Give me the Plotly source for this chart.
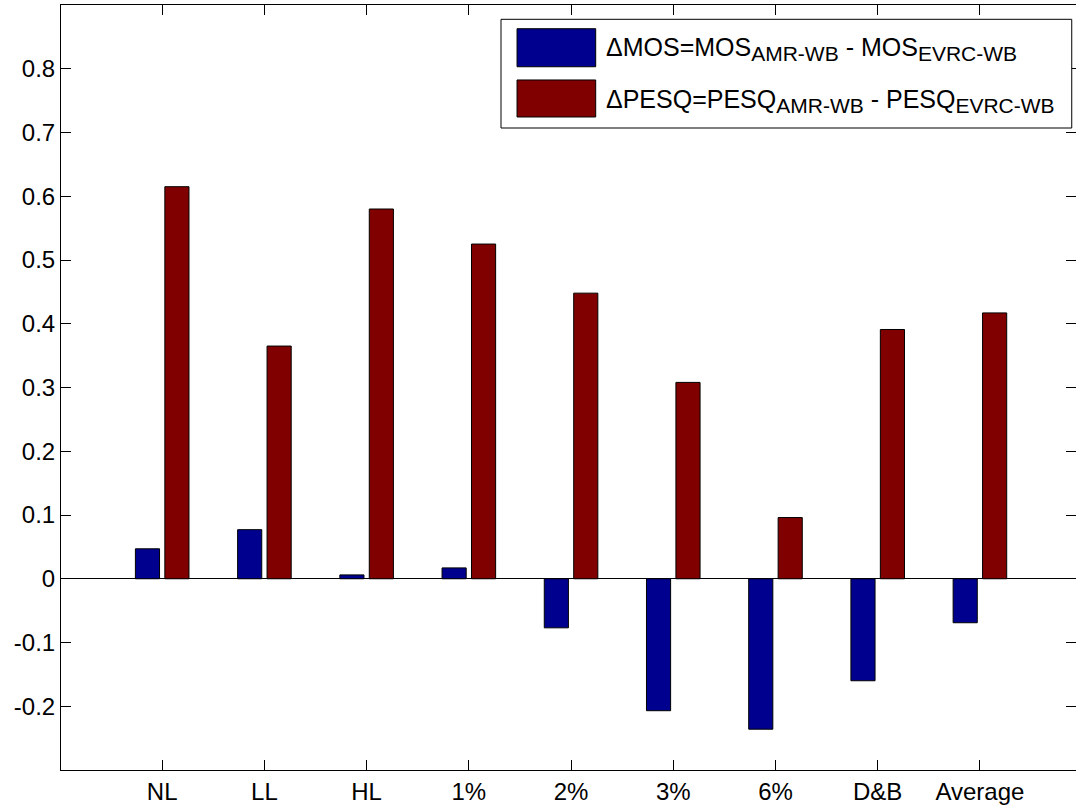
import plotly.graph_objects as go

categories = ["NL", "LL", "HL", "1%", "2%", "3%", "6%", "D&B", "Average"]
delta_mos = [0.047, 0.077, 0.006, 0.017, -0.077, -0.207, -0.236, -0.160, -0.069]
delta_pesq = [0.615, 0.365, 0.580, 0.525, 0.448, 0.308, 0.096, 0.391, 0.417]
y_ticks = [-0.2, -0.1, 0, 0.1, 0.2, 0.3, 0.4, 0.5, 0.6, 0.7, 0.8]

SUB = '<sub><span style="font-size:21px">%s</span></sub>'
mos_label = "\u0394MOS=MOS" + SUB % "AMR-WB" + " - MOS" + SUB % "EVRC-WB"
pesq_label = "\u0394PESQ=PESQ" + SUB % "AMR-WB" + " - PESQ" + SUB % "EVRC-WB"

BLUE = "#00008F"
RED = "#800000"
FONT = "Liberation Sans, Arial, sans-serif"

fig = go.Figure()
fig.add_trace(go.Bar(x=categories, y=delta_mos, name="\u0394MOS",
                     marker=dict(color=BLUE, line=dict(color="black", width=1))))
fig.add_trace(go.Bar(x=categories, y=delta_pesq, name="\u0394PESQ",
                     marker=dict(color=RED, line=dict(color="black", width=1))))

fig.update_layout(
    width=1076, height=808,
    margin=dict(l=61, r=0, t=5, b=38),
    paper_bgcolor="white", plot_bgcolor="white",
    barmode="group", bargap=0.424, bargroupgap=0.18,
    showlegend=False,
    font=dict(family=FONT, size=24, color="black"),
)
fig.update_xaxes(
    type="category", range=[-0.99, 8.94],
    showline=True, linecolor="black", linewidth=1, mirror="ticks",
    ticks="inside", ticklen=10, tickcolor="black", tickwidth=1,
    showgrid=False, zeroline=False,
    tickfont=dict(family=FONT, size=24, color="black"),
)
fig.update_yaxes(
    range=[-0.3, 0.9], tickvals=y_ticks,
    ticktext=[("%g" % v) for v in y_ticks],
    showline=True, linecolor="black", linewidth=1, mirror="ticks",
    ticks="inside", ticklen=10, tickcolor="black", tickwidth=1,
    showgrid=False, zeroline=True, zerolinecolor="black", zerolinewidth=1,
    tickfont=dict(family=FONT, size=24, color="black"),
)

# Legend drawn manually (MATLAB-style large patches)
shapes = [
    dict(type="rect", xref="paper", yref="paper", x0=0.4335, x1=0.9958, y0=0.8392, y1=0.9813,
         line=dict(color="black", width=1), fillcolor="white", layer="above"),
    dict(type="rect", xref="paper", yref="paper", x0=0.4493, x1=0.5268, y0=0.9193, y1=0.969,
         line=dict(color="black", width=1), fillcolor=BLUE, layer="above"),
    dict(type="rect", xref="paper", yref="paper", x0=0.4493, x1=0.5268, y0=0.8536, y1=0.902,
         line=dict(color="black", width=1), fillcolor=RED, layer="above"),
]
annotations = [
    dict(xref="paper", yref="paper", x=0.535, y=0.942, text=mos_label, showarrow=False,
         xanchor="left", yanchor="middle", font=dict(family=FONT, size=25, color="black")),
    dict(xref="paper", yref="paper", x=0.535, y=0.875, text=pesq_label, showarrow=False,
         xanchor="left", yanchor="middle", font=dict(family=FONT, size=25, color="black")),
]
fig.update_layout(shapes=shapes, annotations=annotations)

fig.write_html("out.html", config={"displayModeBar": False},
               post_script="document.body.style.margin='0px';")
